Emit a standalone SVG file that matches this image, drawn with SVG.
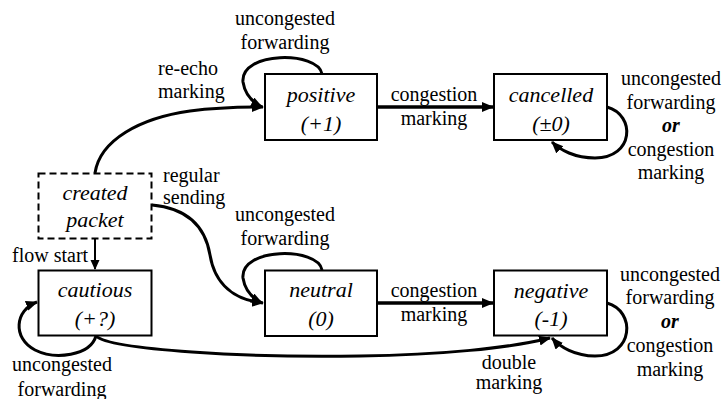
<svg xmlns="http://www.w3.org/2000/svg" width="723" height="399" viewBox="0 0 723 399">
  <style>
    .node rect { fill: #ffffff; stroke: #000000; stroke-width: 2; }
    .node.start rect { stroke-dasharray: 7 4; }
    .state { font-family: "Liberation Serif", "Times New Roman", serif; font-size: 22px; font-style: italic; text-anchor: middle; fill: #000000; }
    .lbl { font-family: "Liberation Serif", "Times New Roman", serif; font-size: 20px; fill: #000000; }
    .mid { text-anchor: middle; }
    .or { font-weight: bold; font-style: italic; }
    .edges path { fill: none; stroke: #000000; stroke-width: 3; marker-end: url(#arrow); }
    .edges path.thin { stroke-width: 2; marker-end: url(#arrow-small); }
    .edges path.straight { stroke-width: 3.5; }
  </style>
  <defs>
    <marker id="arrow" markerUnits="userSpaceOnUse" markerWidth="13" markerHeight="11" refX="11" refY="5" orient="auto">
      <path d="M0,0 L12,5 L0,10 z" fill="#000000"/>
    </marker>
    <marker id="arrow-small" markerUnits="userSpaceOnUse" markerWidth="11" markerHeight="10" refX="9" refY="4.5" orient="auto">
      <path d="M0,0 L10,4.5 L0,9 z" fill="#000000"/>
    </marker>
  </defs>
  <rect width="723" height="399" fill="#ffffff"/>

  <!-- transitions -->
  <g id="connectors" class="edges">
    <!-- created -> positive (re-echo marking) -->
    <path d="M95,173 C100,140 140,118 190,111 C220,107 245,107 263,107"/>
    <!-- positive self loop -->
    <path d="M322,74 C318,51 240,51 243,82 C245,95 252,102 262,107"/>
    <!-- positive -> cancelled -->
    <path class="straight" d="M377,107 L493,107"/>
    <!-- cancelled self loop -->
    <path d="M607,107 C636,115 634,158 595,158 C575,158 560,150 552,142"/>
    <!-- created -> neutral (regular sending) -->
    <path d="M152,205 C185,208 205,225 210,255 C215,285 235,300 263,303"/>
    <!-- neutral self loop -->
    <path d="M322,270 C318,247 240,247 243,278 C245,291 252,298 262,303"/>
    <!-- neutral -> negative -->
    <path class="straight" d="M377,303 L493,303"/>
    <!-- negative self loop -->
    <path d="M607,303 C636,311 634,356 595,356 C575,356 560,347 552,338"/>
    <!-- created -> cautious (flow start) -->
    <path class="thin" d="M95,238 L95,269"/>
    <!-- cautious self loop -->
    <path d="M96,336 C90,356 55,360 35,350 C12,338 15,310 37,302"/>
    <!-- cautious -> negative (double marking) -->
    <path d="M96,336 C110,350 250,358 360,356 C440,355 510,348 550,338"/>
  </g>

  <!-- transition labels -->
  <g id="labels">
    <text class="lbl mid" x="285" y="25">uncongested</text>
    <text class="lbl mid" x="285" y="49">forwarding</text>
    <text class="lbl" x="158" y="75">re-echo</text>
    <text class="lbl" x="158" y="98">marking</text>
    <text class="lbl mid" x="434" y="101">congestion</text>
    <text class="lbl mid" x="434" y="125">marking</text>
    <text class="lbl mid" x="671" y="85">uncongested</text>
    <text class="lbl mid" x="671" y="108.5">forwarding</text>
    <text class="lbl mid or" x="671" y="132">or</text>
    <text class="lbl mid" x="671" y="155.5">congestion</text>
    <text class="lbl mid" x="671" y="179">marking</text>
    <text class="lbl" x="163" y="182">regular</text>
    <text class="lbl" x="163" y="204">sending</text>
    <text class="lbl" x="12" y="262">flow start</text>
    <text class="lbl mid" x="285" y="220.5">uncongested</text>
    <text class="lbl mid" x="285" y="244.5">forwarding</text>
    <text class="lbl mid" x="434" y="297">congestion</text>
    <text class="lbl mid" x="434" y="321">marking</text>
    <text class="lbl mid" x="670" y="280.5">uncongested</text>
    <text class="lbl mid" x="670" y="304">forwarding</text>
    <text class="lbl mid or" x="670" y="328">or</text>
    <text class="lbl mid" x="670" y="352">congestion</text>
    <text class="lbl mid" x="670" y="376">marking</text>
    <text class="lbl mid" x="509" y="368.5">double</text>
    <text class="lbl mid" x="509" y="389">marking</text>
    <text class="lbl mid" x="62" y="370.5">uncongested</text>
    <text class="lbl mid" x="62" y="396">forwarding</text>
  </g>

  <!-- states -->
  <g id="node-positive" class="node">
    <rect x="265" y="74" width="112" height="66"/>
    <text class="state" x="321" y="102">positive</text>
    <text class="state" x="321" y="130.5">(+1)</text>
  </g>
  <g id="node-cancelled" class="node">
    <rect x="494" y="74" width="113" height="66"/>
    <text class="state" x="551" y="102">cancelled</text>
    <text class="state" x="551" y="130.5">(±0)</text>
  </g>
  <g id="node-created" class="node start">
    <rect x="38.5" y="173.5" width="113" height="65"/>
    <text class="state" x="95" y="200">created</text>
    <text class="state" x="95" y="226.5">packet</text>
  </g>
  <g id="node-cautious" class="node">
    <rect x="38.5" y="270.5" width="113" height="65"/>
    <text class="state" x="95" y="297">cautious</text>
    <text class="state" x="95" y="325.5">(+?)</text>
  </g>
  <g id="node-neutral" class="node">
    <rect x="265" y="270.5" width="112" height="65.5"/>
    <text class="state" x="321" y="297">neutral</text>
    <text class="state" x="321" y="325.5">(0)</text>
  </g>
  <g id="node-negative" class="node">
    <rect x="494" y="270.5" width="113" height="65"/>
    <text class="state" x="551" y="297.5">negative</text>
    <text class="state" x="551" y="326">(-1)</text>
  </g>
</svg>
